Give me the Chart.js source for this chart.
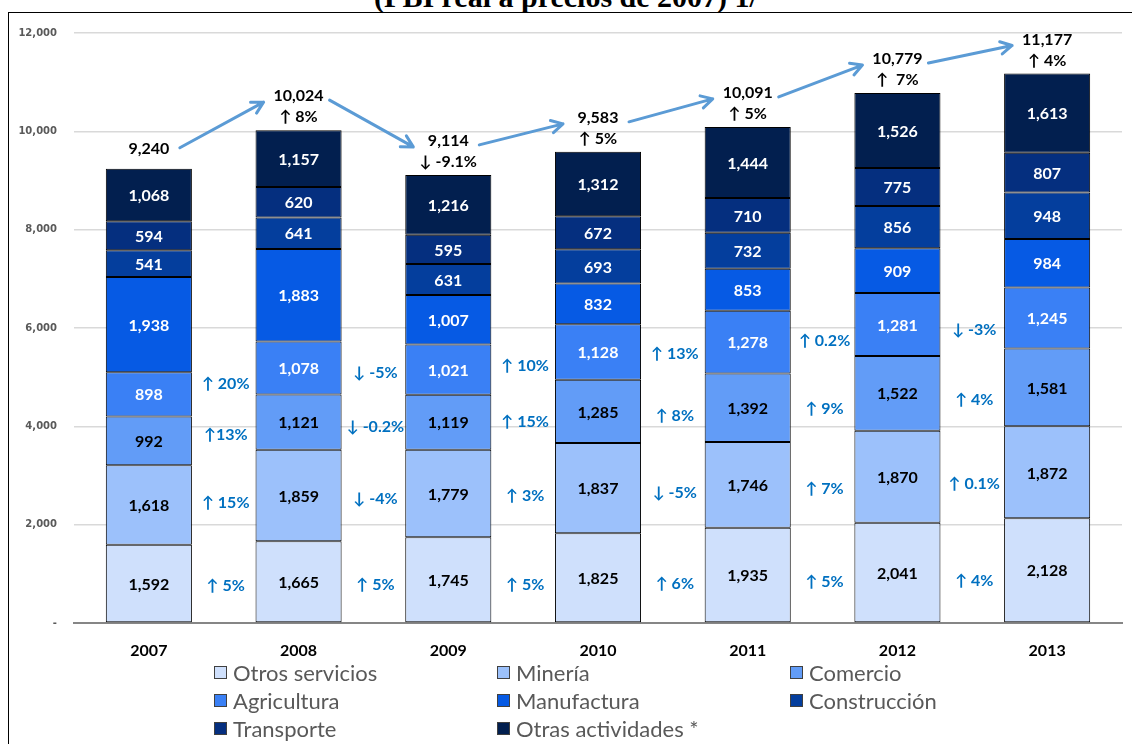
<!DOCTYPE html>
<html><head><meta charset="utf-8">
<script src="https://cdn.jsdelivr.net/npm/chart.js@4.4.1/dist/chart.umd.min.js"></script>
<style>
html,body{margin:0;padding:0;background:#fff;overflow:hidden;}
#wrap{position:relative;width:1132px;height:744px;overflow:hidden;background:#fff;}
#frame{position:absolute;left:8px;top:12px;width:1200px;height:800px;border:1.5px solid #000;box-sizing:border-box;}
#title{position:absolute;left:0;width:1132px;top:-18px;text-align:center;font:bold 30px/30px "Liberation Serif",serif;color:#000;white-space:nowrap;}
#c{position:absolute;left:0;top:0;}
#legend{position:absolute;left:0;top:0;width:1132px;height:744px;pointer-events:none;}
.li{position:absolute;display:flex;align-items:center;height:24px;font:22px "Lato",sans-serif;color:#595959;white-space:nowrap;}
.sw{width:13px;height:13px;border:1px solid #404040;margin-right:6px;box-sizing:border-box;}
</style></head>
<body>
<div id="wrap">
  <div id="title">(PBI real a precios de 2007) 1/</div>
  <div id="frame"></div>
  <canvas id="c" width="1132" height="660"></canvas>
  <div id="legend"></div>
</div>
<script>
// ---- data ----
const years = ['2007','2008','2009','2010','2011','2012','2013'];
const otrosServicios   = [1592, 1665, 1745, 1825, 1935, 2041, 2128];
const mineria          = [1618, 1859, 1779, 1837, 1746, 1870, 1872];
const comercio         = [992, 1121, 1119, 1285, 1392, 1522, 1581];
const agricultura      = [898, 1078, 1021, 1128, 1278, 1281, 1245];
const manufactura      = [1938, 1883, 1007, 832, 853, 909, 984];
const construccion     = [541, 641, 631, 693, 732, 856, 948];
const transporte       = [594, 620, 595, 672, 710, 775, 807];
const otrasActividades = [1068, 1157, 1216, 1312, 1444, 1526, 1613];
const totals      = [9240, 10024, 9114, 9583, 10091, 10779, 11177];
const totalChange = ['', '\u2191 8%', '\u2193 -9.1%', '\u2191 5%', '\u2191 5%', '\u2191  7%', '\u2191 4%'];
const growthOtros       = ['\u2191 5%', '\u2191 5%', '\u2191 5%', '\u2191 6%', '\u2191 5%', '\u2191 4%'];
const growthMineria     = ['\u2191 15%', '\u2193 -4%', '\u2191 3%', '\u2193 -5%', '\u2191 7%', '\u2191 0.1%'];
const growthComercio    = ['\u219113%', '\u2193 -0.2%', '\u2191 15%', '\u2191 8%', '\u2191 9%', '\u2191 4%'];
const growthAgricultura = ['\u2191 20%', '\u2193 -5%', '\u2191 10%', '\u2191 13%', '\u2191 0.2%', '\u2193 -3%'];
const yTicks = [0, 2000, 4000, 6000, 8000, 10000, 12000];
const seriesNames = ['Otros servicios','Miner\u00eda','Comercio','Agricultura','Manufactura','Construcci\u00f3n','Transporte','Otras actividades *'];
const seriesData = [otrosServicios, mineria, comercio, agricultura, manufactura, construccion, transporte, otrasActividades];
const growthRows = [growthOtros, growthMineria, growthComercio, growthAgricultura];

// ---- styles ----
const colors = ['#CFE0FC','#9CC1FB','#629CF7','#3A80F5','#065AE4','#043E9D','#052F7F','#021F4F'];
const labelColors = ['#000','#000','#000','#fff','#fff','#fff','#fff','#fff'];
const LBL_FONT = 'bold 16px Lato, "DejaVu Sans", sans-serif';

const fmt = v => v.toLocaleString('en-US');

const labelsPlugin = {
  id: 'labelsPlugin',
  afterDatasetsDraw(chart) {
    const ctx = chart.ctx;
    const xs = chart.scales.x, ys = chart.scales.y;
    ctx.save();
    ctx.textAlign = 'center';
    ctx.textBaseline = 'middle';
    ctx.font = LBL_FONT;
    // segment labels
    chart.data.datasets.forEach((ds, di) => {
      const meta = chart.getDatasetMeta(di);
      meta.data.forEach((bar, i) => {
        ctx.fillStyle = labelColors[di];
        ctx.fillText(fmt(ds.data[i]), bar.x, (bar.y + bar.base) / 2 + 1);
      });
    });
    // growth annotations between bars
    ctx.fillStyle = '#0070C0';
    for (let s = 0; s < growthRows.length; s++) {
      for (let i = 0; i < years.length - 1; i++) {
        const midOf = j => {
          let base = 0;
          for (let k = 0; k < s; k++) base += seriesData[k][j];
          return base + seriesData[s][j] / 2;
        };
        const v = (midOf(i) + midOf(i + 1)) / 2;
        const x = (xs.getPixelForValue(i) + xs.getPixelForValue(i + 1)) / 2 + 2;
        ctx.fillText(growthRows[s][i], x, ys.getPixelForValue(v) + 3 + i * 1.2);
      }
    }
    // totals
    ctx.fillStyle = '#000';
    for (let i = 0; i < years.length; i++) {
      const x = xs.getPixelForValue(i);
      const top = ys.getPixelForValue(totals[i]);
      if (totalChange[i]) {
        ctx.fillText(fmt(totals[i]), x, top - 34);
        ctx.fillText(totalChange[i], x, top - 13);
      } else {
        ctx.fillText(fmt(totals[i]), x, top - 20);
      }
    }
    // arrows
    ctx.strokeStyle = '#5B9BD5';
    ctx.lineWidth = 3;
    ctx.lineCap = 'round';
    ctx.lineJoin = 'round';
    for (let i = 0; i < years.length - 1; i++) {
      const x0 = xs.getPixelForValue(i) + 31;
      const y0 = ys.getPixelForValue(totals[i]) - (totalChange[i] ? 30 : 21);
      const x1 = xs.getPixelForValue(i + 1) - 35;
      const y1 = ys.getPixelForValue(totals[i + 1]) - 28;
      const a = Math.atan2(y1 - y0, x1 - x0);
      ctx.beginPath();
      ctx.moveTo(x0, y0);
      ctx.lineTo(x1, y1);
      ctx.moveTo(x1 - 13 * Math.cos(a - 0.5), y1 - 13 * Math.sin(a - 0.5));
      ctx.lineTo(x1, y1);
      ctx.lineTo(x1 - 13 * Math.cos(a + 0.5), y1 - 13 * Math.sin(a + 0.5));
      ctx.stroke();
    }
    ctx.restore();
  }
};

new Chart(document.getElementById('c'), {
  type: 'bar',
  data: {
    labels: years,
    datasets: seriesData.map((d, i) => ({
      label: seriesNames[i],
      data: d,
      backgroundColor: colors[i],
      borderColor: '#000',
      borderWidth: 1,
      borderSkipped: false,
      barPercentage: 0.575,
      categoryPercentage: 1.0
    }))
  },
  options: {
    responsive: false,
    animation: false,
    devicePixelRatio: 1,
    layout: { padding: { top: 33, left: 0, right: 10, bottom: 0 } },
    plugins: { legend: { display: false }, tooltip: { enabled: false }, title: { display: false } },
    scales: {
      x: {
        stacked: true,
        grid: { display: false },
        border: { display: true, color: '#868686', width: 2 },
        ticks: { color: '#000', font: { family: 'Lato', weight: 'bold', size: 16 }, padding: 10 },
        afterFit(s) { s.height = 37; }
      },
      y: {
        stacked: true,
        min: 0, max: 12000,
        afterBuildTicks(s) { s.ticks = yTicks.map(v => ({ value: v })); },
        grid: { color: '#D9D9D9', lineWidth: 1.5, drawTicks: false },
        border: { display: false },
        ticks: {
          color: '#595959', padding: 17,
          font: { family: 'DejaVu Sans', weight: 'bold', size: 10 },
          callback: v => v === 0 ? '-' : fmt(v)
        },
        afterFit(s) { s.width = 74; }
      }
    }
  },
  plugins: [labelsPlugin]
});

// ---- HTML legend (3 columns) ----
const legend = document.getElementById('legend');
const colX = [214, 497, 790];
const rowY = [660, 688, 716];
seriesNames.forEach((name, i) => {
  const el = document.createElement('div');
  el.className = 'li';
  el.style.left = colX[i % 3] + 'px';
  el.style.top = rowY[Math.floor(i / 3)] + 'px';
  const sw = document.createElement('span');
  sw.className = 'sw';
  sw.style.background = colors[i];
  el.appendChild(sw);
  el.appendChild(document.createTextNode(name));
  legend.appendChild(el);
});
</script>
</body></html>
